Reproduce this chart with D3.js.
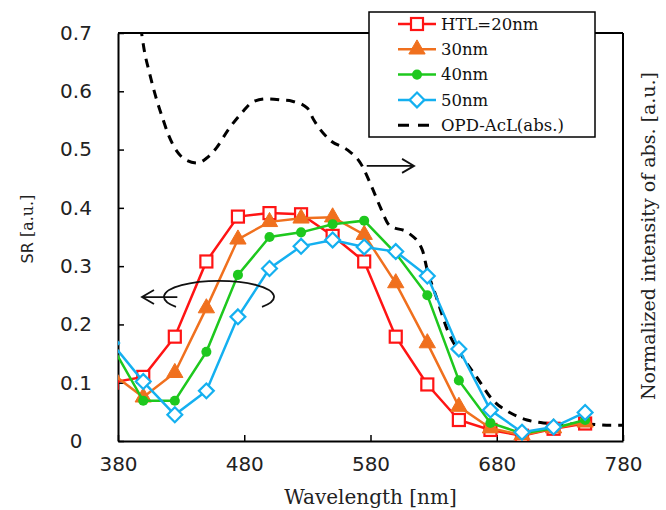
<!DOCTYPE html>
<html>
<head>
<meta charset="utf-8">
<script src="https://cdn.jsdelivr.net/npm/d3@7"></script>
<style>
  body { margin: 0; background: #fff; }
  svg { display: block; }
</style>
</head>
<body>
<div id="plot"></div>
<script>
// wavelengths of the measured SR points (nm)
const wavelengths = [375, 400, 425, 450, 475, 500, 525, 550, 575, 600, 625, 650, 675, 700, 725, 750];

const sr20 = [0.100, 0.110, 0.179, 0.308, 0.385, 0.391, 0.389, 0.352, 0.308, 0.179, 0.097, 0.036, 0.019, 0.009, 0.021, 0.030];
const sr30 = [0.116, 0.075, 0.117, 0.228, 0.346, 0.376, 0.382, 0.384, 0.354, 0.271, 0.168, 0.059, 0.022, 0.010, 0.022, 0.032];
const sr40 = [0.164, 0.069, 0.069, 0.153, 0.285, 0.350, 0.358, 0.372, 0.378, 0.322, 0.250, 0.104, 0.031, 0.013, 0.022, 0.036];
const sr50 = [0.168, 0.102, 0.045, 0.086, 0.213, 0.296, 0.334, 0.345, 0.333, 0.325, 0.283, 0.158, 0.053, 0.015, 0.024, 0.049];

// absorption spectrum of OPD-AcL (normalized, right axis, same scale)
const absWl  = [398, 401, 405, 410, 415, 420, 427, 434, 443, 450, 458, 467, 478, 487, 498, 510, 518, 530, 535, 548,
                562, 572, 581, 588, 595, 610, 621, 625, 632, 641, 653, 664, 677, 691, 704, 717, 735, 751, 767, 780];
const absVal = [0.71, 0.668, 0.631, 0.590, 0.556, 0.525, 0.496, 0.482, 0.477, 0.485, 0.503, 0.533, 0.563, 0.582, 0.587, 0.585, 0.583, 0.571, 0.551, 0.516,
                0.499, 0.477, 0.436, 0.400, 0.370, 0.357, 0.328, 0.293, 0.248, 0.190, 0.144, 0.110, 0.070, 0.048, 0.036, 0.031, 0.029, 0.029, 0.027, 0.027];

const xTicks = [380, 480, 580, 680, 780];
const yTicks = [0, 0.1, 0.2, 0.3, 0.4, 0.5, 0.6, 0.7];

const seriesNames = ['HTL=20nm', '30nm', '40nm', '50nm'];
const seriesColors = ['#ff1414', '#f0701e', '#1ec81e', '#14b0f0'];
const seriesMarkers = ['square', 'triangle', 'circle', 'diamond'];
const seriesValues = [sr20, sr30, sr40, sr50];

const width = 666;
const height = 510;
const margin = {top: 33, right: 43, bottom: 69, left: 118};

const svg = d3.select('#plot')
    .append('svg')
    .attr('width', width)
    .attr('height', height);

const x = d3.scaleLinear()
    .domain([380, 780])
    .range([margin.left, width - margin.right]);

const y = d3.scaleLinear()
    .domain([0, 0.7])
    .range([height - margin.bottom, margin.top]);

svg.append('defs').append('clipPath').attr('id', 'clip')
    .append('rect')
    .attr('x', margin.left).attr('y', margin.top)
    .attr('width', x(780) - x(380)).attr('height', y(0) - y(0.7));

const tickFont = '"DejaVu Sans", Verdana, sans-serif';
const serifFont = '"DejaVu Serif", Cambria, serif';

// axes
function xAxis(g) {
    g.attr('transform', `translate(0,${y(0)})`)
        .call(d3.axisBottom(x).tickValues(xTicks).tickSizeInner(-6).tickSizeOuter(0).tickPadding(16))
        .call(g => g.select('.domain').attr('stroke-width', 2))
        .call(g => g.selectAll('.tick line').attr('stroke-width', 1.5))
        .attr('font-size', '20px')
        .attr('font-family', tickFont)
        .call(g => g.selectAll('.tick text').attr('fill', '#222'));
}

function yAxis(g) {
    g.attr('transform', `translate(${x(380)},0)`)
        .call(d3.axisLeft(y).tickValues(yTicks).tickSizeInner(-6).tickSizeOuter(0)
            .tickFormat(d => d === 0 ? '0' : d3.format('.1f')(d)))
        .call(g => g.select('.domain').attr('stroke-width', 2))
        .call(g => g.selectAll('.tick line').attr('stroke-width', 1.5))
        .attr('font-size', '20px')
        .attr('font-family', tickFont)
        .call(g => g.selectAll('.tick text').attr('fill', '#222')
            .attr('text-anchor', 'middle').attr('x', -42));
}

svg.append('g').call(xAxis);
svg.append('g').call(yAxis);

// top and right frame
svg.append('line')
    .attr('x1', x(380)).attr('x2', x(780))
    .attr('y1', y(0.7)).attr('y2', y(0.7))
    .attr('stroke', '#000').attr('stroke-width', 2);
svg.append('line')
    .attr('x1', x(780)).attr('x2', x(780))
    .attr('y1', y(0.7)).attr('y2', y(0))
    .attr('stroke', '#000').attr('stroke-width', 2);

const plot = svg.append('g').attr('clip-path', 'url(#clip)');

// absorption (dashed)
const absLine = d3.line()
    .x((d, i) => x(absWl[i]))
    .y(d => y(d))
    .curve(d3.curveMonotoneX);

plot.append('path')
    .datum(absVal)
    .attr('fill', 'none')
    .attr('stroke', '#000')
    .attr('stroke-width', 3)
    .attr('stroke-dasharray', '9,7')
    .attr('d', absLine);

const srLine = d3.line()
    .x((d, i) => x(wavelengths[i]))
    .y(d => y(d));

function drawMarker(g, type, color, size) {
    if (type === 'square') {
        g.append('rect').attr('x', -size / 2).attr('y', -size / 2)
            .attr('width', size).attr('height', size)
            .attr('fill', '#fff').attr('stroke', color).attr('stroke-width', 2.2);
    } else if (type === 'triangle') {
        g.append('path').attr('d', d3.symbol(d3.symbolTriangle, size * size * 0.8)())
            .attr('fill', color).attr('stroke', color).attr('stroke-width', 1);
    } else if (type === 'circle') {
        g.append('circle').attr('r', size * 0.42).attr('fill', color);
    } else {
        const s = size * 0.62;
        g.append('path').attr('d', `M0,${-s}L${s},0L0,${s}L${-s},0Z`)
            .attr('fill', '#fff').attr('stroke', color).attr('stroke-width', 2.2);
    }
}

seriesValues.forEach((vals, k) => {
    const g = plot.append('g');
    g.append('path')
        .datum(vals)
        .attr('fill', 'none')
        .attr('stroke', seriesColors[k])
        .attr('stroke-width', 2.5)
        .attr('d', srLine);
    g.selectAll('g.mk')
        .data(vals)
        .join('g')
        .attr('class', 'mk')
        .attr('transform', (d, i) => `translate(${x(wavelengths[i])},${y(d)})`)
        .each(function () { drawMarker(d3.select(this), seriesMarkers[k], seriesColors[k], 12); });
});

// arrows
const arrow = svg.append('g').attr('fill', 'none').attr('stroke', '#111').attr('stroke-width', 1.8);
const ex = x(460), ey = y(0.256), rx = 55, ry = 16;
arrow.append('path')
    .attr('d', `M${ex - 43},${ey + 15} A${rx},${ry} 0 1 1 ${ex + 43},${ey + 15}`);
arrow.append('path')
    .attr('d', `M${x(427)},${y(0.247)} L${x(399)},${y(0.247)} M${x(399) + 12},${y(0.247) - 7} L${x(399)},${y(0.247)} L${x(399) + 12},${y(0.247) + 7}`);
arrow.append('path')
    .attr('d', `M${x(577)},${y(0.472)} L${x(614.5)},${y(0.472)} M${x(614.5) - 12},${y(0.472) - 7} L${x(614.5)},${y(0.472)} L${x(614.5) - 12},${y(0.472) + 7}`);

// legend
const legend = svg.append('g');
legend.append('rect')
    .attr('x', 369).attr('y', 12).attr('width', 226).attr('height', 125)
    .attr('fill', '#fff').attr('stroke', '#000').attr('stroke-width', 1.5);

const legendNames = seriesNames.concat(['OPD-AcL(abs.)']);
legendNames.forEach((name, k) => {
    const ly = 24 + k * 25.3;
    const row = legend.append('g').attr('transform', `translate(0,${ly})`);
    if (k < 4) {
        row.append('line').attr('x1', 398).attr('x2', 436).attr('y1', 0).attr('y2', 0)
            .attr('stroke', seriesColors[k]).attr('stroke-width', 2.5);
        const mk = row.append('g').attr('transform', 'translate(417,0)');
        drawMarker(mk, seriesMarkers[k], seriesColors[k], 12);
    } else {
        row.append('line').attr('x1', 398).attr('x2', 436).attr('y1', 0).attr('y2', 0)
            .attr('stroke', '#000').attr('stroke-width', 3).attr('stroke-dasharray', '11,9');
    }
    row.append('text')
        .attr('x', 441).attr('y', 0).attr('dy', '0.35em')
        .attr('font-family', serifFont).attr('font-size', 16.5)
        .attr('fill', '#111')
        .text(name);
});

// axis titles
svg.append('text')
    .attr('x', (x(380) + x(780)) / 2).attr('y', 504)
    .attr('text-anchor', 'middle')
    .attr('font-family', serifFont).attr('font-size', 20)
    .attr('fill', '#222')
    .text('Wavelength [nm]');

const yt = svg.append('text')
    .attr('transform', `translate(33,229) rotate(-90)`)
    .attr('text-anchor', 'middle')
    .attr('font-size', 16)
    .attr('fill', '#222');
yt.append('tspan').attr('font-family', tickFont).text('SR  ');
yt.append('tspan').attr('font-family', serifFont).text('[a.u.]');

svg.append('text')
    .attr('transform', `translate(655,236) rotate(-90)`)
    .attr('text-anchor', 'middle')
    .attr('font-family', serifFont).attr('font-size', 19)
    .attr('fill', '#222')
    .text('Normalized intensity of abs. [a.u.]');

svg.node();
</script>
</body>
</html>
